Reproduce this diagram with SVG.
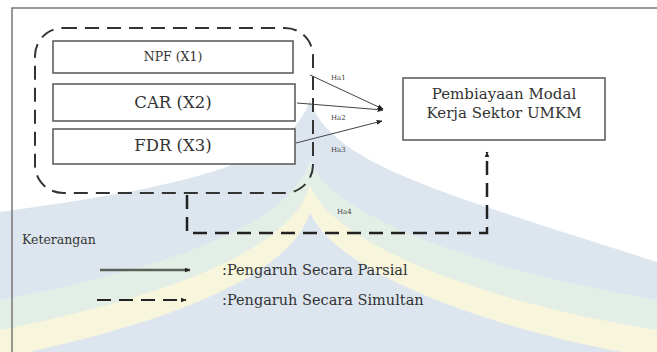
<svg xmlns="http://www.w3.org/2000/svg" width="657" height="352" viewBox="0 0 657 352">
<defs>
<marker id="ah" viewBox="0 0 10 10" refX="9" refY="5" markerWidth="6" markerHeight="6" markerUnits="userSpaceOnUse" orient="auto"><path d="M0,1 L10,5 L0,9 Z" fill="#222"/></marker>
<style>
.box{fill:#fff;stroke:#555;stroke-width:1.5}
.t{font-family:"DejaVu Serif","Liberation Serif",serif;fill:#333;text-anchor:middle}
.tl{font-family:"DejaVu Serif","Liberation Serif",serif;fill:#333}
.sm{font-family:"DejaVu Serif","Liberation Serif",serif;fill:#444;font-size:7px}
.solid{fill:none;stroke:#444;stroke-width:1}
.dash{fill:none;stroke:#222;stroke-width:2.5;stroke-dasharray:14 8}
</style>
</defs>
<rect width="657" height="352" fill="#fff"/>
<g id="watermark">
<path d="M0,212 C200,185 290,160 310,100 C330,165 450,195 657,262 L657,352 L0,352 Z" fill="#dde6ef"/>
<path d="M0,300 C200,262 295,215 310,160 C330,215 470,268 657,300 L657,352 L0,352 Z" fill="#e3efe6"/>
<path d="M0,330 C200,290 295,240 310,185 C330,240 470,300 657,330 L657,352 L0,352 Z" fill="#f7f5dc"/>
<path d="M0,358 C200,318 295,265 310,212 C330,265 470,328 657,358 L657,352 L0,352 Z" fill="#dde6ef"/>
</g>
<g id="frame" fill="none" stroke="#777" stroke-width="1.5">
<path d="M12,352 V8 H657"/>
</g>
<g id="group-x">
<rect x="35" y="28" width="278" height="165" rx="28" ry="28" fill="none" stroke="#333" stroke-width="2" stroke-dasharray="14 8"/>
</g>
<g id="x1">
<rect class="box" x="53" y="41" width="240" height="32"/>
<text class="t" x="173" y="61" font-size="12.5">NPF (X1)</text>
</g>
<g id="x2">
<rect class="box" x="53" y="84" width="242" height="37"/>
<text class="t" x="173" y="108" font-size="16.5">CAR (X2)</text>
</g>
<g id="x3">
<rect class="box" x="53" y="129" width="242" height="35"/>
<text class="t" x="173" y="151" font-size="16.5">FDR (X3)</text>
</g>
<g id="y">
<rect class="box" x="403" y="78" width="202" height="62" stroke="#666"/>
<text class="t" x="504" y="99" font-size="15">Pembiayaan Modal</text>
<text class="t" x="504" y="118" font-size="15">Kerja Sektor UMKM</text>
</g>
<g id="connectors">
<line class="solid" x1="310" y1="75" x2="383" y2="109" marker-end="url(#ah)"/>
<line class="solid" x1="297" y1="103" x2="383" y2="110" marker-end="url(#ah)"/>
<line class="solid" x1="296" y1="143" x2="382" y2="121" marker-end="url(#ah)"/>
<path class="dash" d="M187,195 V233 H487 V152" marker-end="url(#ah)"/>
<text class="sm" x="331" y="80">Ha1</text>
<text class="sm" x="331" y="120">Ha2</text>
<text class="sm" x="331" y="152">Ha3</text>
<text class="sm" x="337" y="214">Ha4</text>
</g>
<g id="legend">
<text class="tl" x="22" y="244" font-size="12.5">Keterangan</text>
<line x1="100" y1="270" x2="190" y2="270" stroke="#5b6157" stroke-width="2.5" marker-end="url(#ah)"/>
<text class="tl" x="222" y="275" font-size="14.5">:Pengaruh Secara Parsial</text>
<line x1="97" y1="300" x2="186" y2="300" stroke="#222" stroke-width="2" stroke-dasharray="14 8" marker-end="url(#ah)"/>
<text class="tl" x="222" y="305" font-size="14.5">:Pengaruh Secara Simultan</text>
</g>
</svg>
